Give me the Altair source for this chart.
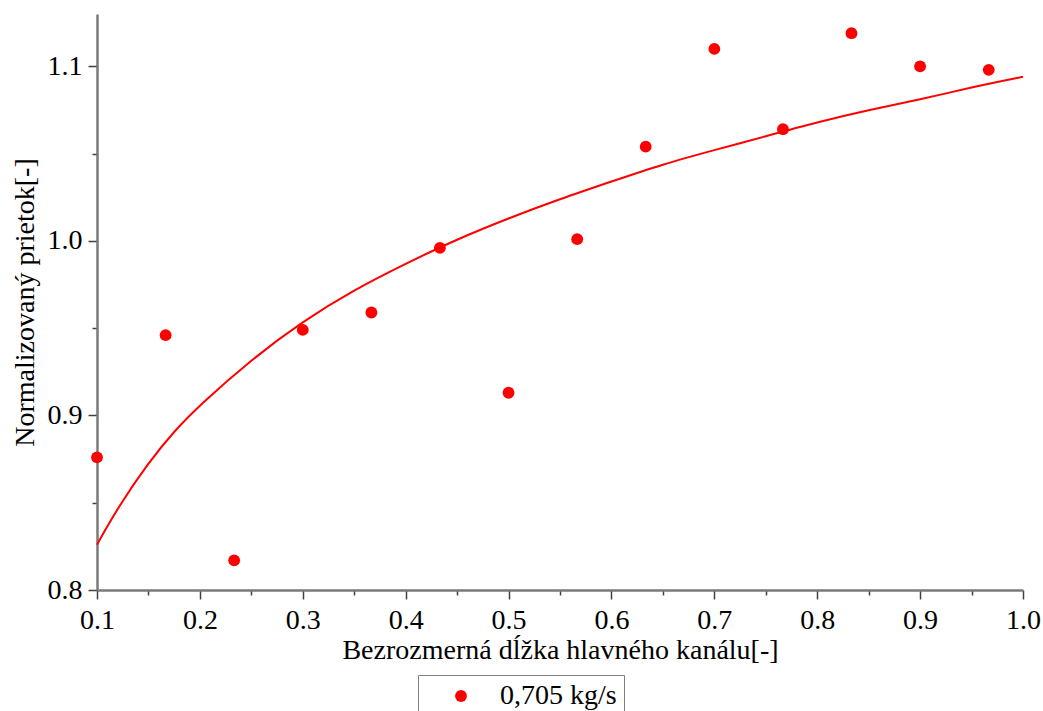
import altair as alt
import pandas as pd

pt_x = [0.1, 0.1667, 0.2333, 0.3, 0.3667, 0.4333, 0.5, 0.5667, 0.6333, 0.7, 0.7667, 0.8333, 0.9, 0.9667]
pt_y = [0.876, 0.946, 0.817, 0.949, 0.959, 0.996, 0.913, 1.001, 1.054, 1.110, 1.064, 1.119, 1.100, 1.098]

# fitted curve
cv_x = [0.1, 0.12, 0.15, 0.175, 0.2, 0.25, 0.3, 0.35, 0.4, 0.45, 0.5, 0.55, 0.6, 0.65, 0.7, 0.75, 0.8, 0.85, 0.9, 0.95, 1.0]
cv_y = [0.826, 0.847, 0.873, 0.891, 0.906, 0.932, 0.954, 0.972, 0.987, 1.001, 1.013, 1.024, 1.034, 1.044, 1.052, 1.060, 1.068, 1.075, 1.081, 1.088, 1.094]

x_ticks = [0.1, 0.15, 0.2, 0.25, 0.3, 0.35, 0.4, 0.45, 0.5, 0.55, 0.6, 0.65, 0.7, 0.75, 0.8, 0.85, 0.9, 0.95, 1.0]
y_ticks = [0.8, 0.85, 0.9, 0.95, 1.0, 1.05, 1.1]

series_name = "0,705 kg/s"
x_title = "Bezrozmerná dĺžka hlavného kanálu[-]"
y_title = "Normalizovaný prietok[-]"

pts = pd.DataFrame({"x": pt_x, "y": pt_y, "series": [series_name] * len(pt_x)})
curve = pd.DataFrame({"x": cv_x, "y": cv_y})

FONT = "'Liberation Serif', 'Times New Roman', Times, serif"
FS = 28
major_test = "abs(datum.value*10 - round(datum.value*10)) < 0.001"

xscale = alt.Scale(domain=[0.1, 1.0], nice=False, zero=False)
yscale = alt.Scale(domain=[0.8, 1.13], nice=False, zero=False)

xaxis = alt.Axis(
    values=x_ticks,
    labelExpr=f"{major_test} ? format(datum.value, '.1f') : ''",
    tickSize={"condition": {"test": major_test, "value": 9}, "value": 5},
    labelPadding=7,
    labelAlign="center",
    labelFlush=False,
    labelOverlap=False,
    title=x_title,
    titleX=463,
    titleY=60,
    titleBaseline="middle",
    titleAlign="center",
)
yaxis = alt.Axis(
    values=y_ticks,
    labelExpr=f"{major_test} ? format(datum.value, '.1f') : ''",
    tickSize={"condition": {"test": major_test, "value": 9}, "value": 5},
    labelPadding=6,
    labelFlush=False,
    labelOverlap=False,
    title=y_title,
    titleX=-72,
    titleY=288,
    titleAngle=270,
    titleBaseline="middle",
    titleAlign="center",
)

line = alt.Chart(curve).mark_line(color="#ff0000", strokeWidth=2, interpolate="basis").encode(
    x=alt.X("x:Q", scale=xscale, axis=xaxis),
    y=alt.Y("y:Q", scale=yscale, axis=yaxis),
)

points = alt.Chart(pts).mark_circle(size=140, opacity=1).encode(
    x=alt.X("x:Q", scale=xscale, axis=xaxis),
    y=alt.Y("y:Q", scale=yscale, axis=yaxis),
    color=alt.Color(
        "series:N",
        scale=alt.Scale(domain=[series_name], range=["#ff0000"]),
        legend=alt.Legend(
            title=None,
            orient="none",
            legendX=321,
            legendY=661,
            padding=7,
            symbolOffset=22,
            labelOffset=25,
            symbolType="circle",
            symbolSize=140,
            strokeColor="#808080",
            labelFont=FONT,
            labelFontSize=FS,
            labelColor="#000000",
        ),
    ),
)

chart = (
    alt.layer(line, points)
    .properties(
        width=926,
        height=576,
        autosize=alt.AutoSizeParams(type="none"),
        padding={"left": 97, "top": 14, "right": 20, "bottom": 121},
        background="white",
    )
    .configure_view(strokeWidth=0)
    .configure_axis(
        grid=False,
        domainColor="#7a7a7a",
        domainWidth=2.5,
        tickColor="#404040",
        tickWidth=1.5,
        labelFont=FONT,
        labelFontSize=FS,
        labelColor="#000000",
        titleFont=FONT,
        titleFontSize=FS,
        titleFontWeight="normal",
        titleColor="#000000",
    )
)

chart.save("out.html", embed_options={"renderer": "svg", "actions": False})
